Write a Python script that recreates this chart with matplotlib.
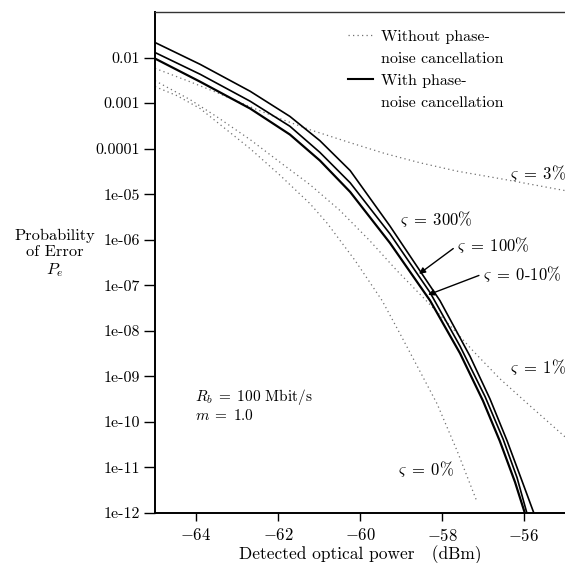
import matplotlib
matplotlib.use("Agg")
import matplotlib.pyplot as plt
from matplotlib.lines import Line2D

plt.rcParams['font.family'] = ['cmr10', 'DejaVu Serif']
plt.rcParams['mathtext.fontset'] = 'cm'
plt.rcParams['axes.formatter.use_mathtext'] = True

# solid curves: with phase-noise cancellation
p_010 = [-65.0, -63.90, -62.68, -61.71, -60.98, -60.24, -59.27, -58.29, -57.56, -57.0, -56.59, -56.22, -55.98]
pe_010 = [9.5e-3, 2.95e-3, 7.6e-4, 2.04e-4, 5.5e-5, 1.12e-5, 8.5e-7, 4.6e-8, 3.2e-9, 2.9e-10, 3.8e-11, 4.8e-12, 1.0e-12]

p_100 = [-65.0, -63.90, -62.68, -61.71, -60.98, -60.24, -59.27, -58.29, -57.56, -56.95, -56.51, -56.17, -55.93]
pe_100 = [1.29e-2, 4.3e-3, 1.1e-3, 3.1e-4, 8.3e-5, 1.78e-5, 1.35e-6, 6.9e-8, 4.6e-9, 3.6e-10, 4.2e-11, 6.0e-12, 1.0e-12]

p_300 = [-65.0, -63.90, -62.68, -61.71, -60.98, -60.24, -59.27, -58.05, -57.32, -56.83, -56.41, -56.05, -55.76]
pe_300 = [2.14e-2, 7.1e-3, 1.82e-3, 5.1e-4, 1.5e-4, 3.3e-5, 2.0e-6, 4.6e-8, 2.8e-9, 3.2e-10, 3.8e-11, 5.1e-12, 1.0e-12]

# dotted curves: without phase-noise cancellation
p_0 = [-65.0, -64.46, -63.90, -62.68, -61.95, -61.22, -60.80, -60.12, -59.46, -59.02, -58.54, -58.12, -57.63, -57.15]
pe_0 = [2.3e-3, 1.45e-3, 7.6e-4, 1.0e-4, 2.6e-5, 6.2e-6, 2.3e-6, 3.5e-7, 4.6e-8, 8.5e-9, 1.3e-9, 2.5e-10, 2.3e-11, 1.8e-12]

p_1 = [-65.0, -64.15, -63.49, -62.68, -61.88, -61.22, -60.49, -59.76, -59.10, -58.46, -57.80, -57.20, -56.59, -55.85, -55.0]
pe_1 = [3.1e-3, 1.2e-3, 5.0e-4, 1.58e-4, 4.5e-5, 1.62e-5, 4.4e-6, 9.5e-7, 2.1e-7, 5.4e-8, 1.29e-8, 3.3e-9, 8.9e-10, 2.24e-10, 4.7e-11]

p_3 = [-65.0, -64.15, -63.49, -62.68, -62.02, -61.22, -60.24, -59.39, -58.54, -57.63, -56.59, -55.0]
pe_3 = [5.8e-3, 2.95e-3, 1.7e-3, 8.3e-4, 4.8e-4, 2.6e-4, 1.35e-4, 7.8e-5, 4.9e-5, 3.2e-5, 2.2e-5, 1.2e-5]

xticks = [-64, -62, -60, -58, -56]
xticklabels = ['$-64$', '$-62$', '$-60$', '$-58$', '$-56$']
yticks = [1e-12, 1e-11, 1e-10, 1e-9, 1e-8, 1e-7, 1e-6, 1e-5, 1e-4, 1e-3, 1e-2]
yticklabels = ['1e-12', '1e-11', '1e-10', '1e-09', '1e-08', '1e-07', '1e-06',
               '1e-05', '0.0001', '0.001', '0.01']

fig = plt.figure(figsize=(5.65, 5.63), dpi=100)
ax = fig.add_axes([155 / 565, 50 / 563, 410 / 565, 501 / 563])

dot = dict(color='#707070', lw=0.9, linestyle=(0, (1, 2.6)))
ax.semilogy(p_0, pe_0, **dot)
ax.semilogy(p_1, pe_1, **dot)
ax.semilogy(p_3, pe_3, **dot)
ax.semilogy(p_300, pe_300, color='k', lw=1.2)
ax.semilogy(p_100, pe_100, color='k', lw=1.2)
ax.semilogy(p_010, pe_010, color='k', lw=1.6)

ax.set_xlim(-65, -55)
ax.set_ylim(1e-12, 1e-1)
ax.set_xticks(xticks)
ax.set_xticklabels(xticklabels)
ax.set_yticks(yticks)
ax.set_yticklabels(yticklabels)
ax.minorticks_off()
ax.tick_params(axis='y', direction='out', length=8, width=1, labelsize=11.5, pad=3)
ax.tick_params(axis='x', direction='out', length=6, width=1, labelsize=12, pad=4)

ax.spines['right'].set_visible(False)
ax.spines['left'].set_linewidth(1.4)
ax.spines['bottom'].set_linewidth(1.4)
ax.spines['top'].set_linewidth(1.0)
ax.spines['top'].set_color('#333333')

ax.set_xlabel('Detected optical power   (dBm)', fontsize=12.5, labelpad=1)
ax.text(-0.245, 0.517, 'Probability\nof Error\n$P_e$', transform=ax.transAxes,
        ha='center', va='center', fontsize=11.8, linespacing=1.2)

handles = [Line2D([], [], **dot), Line2D([], [], color='none'),
           Line2D([], [], color='k', lw=1.5), Line2D([], [], color='none')]
labels = ['Without phase-', 'noise cancellation', 'With phase-', 'noise cancellation']
ax.legend(handles, labels, loc='upper left', bbox_to_anchor=(0.455, 0.978),
          frameon=False, fontsize=11.5, handlelength=1.6, handletextpad=0.5,
          labelspacing=0.5, borderaxespad=0)

fs = 12
ax.text(-59.02, 10 ** -5.54, r'$\varsigma\;=\;300\%$', fontsize=fs, va='center')
ax.text(-56.34, 10 ** -4.53, r'$\varsigma\;=\;3\%$', fontsize=fs, va='center')
ax.text(-56.34, 10 ** -8.81, r'$\varsigma\;=\;1\%$', fontsize=fs, va='center')
ax.text(-59.07, 10 ** -11.03, r'$\varsigma\;=\;0\%$', fontsize=fs, va='center')
arrow = dict(arrowstyle='-|>', color='k', lw=1.0, shrinkA=1, shrinkB=0,
             mutation_scale=9, relpos=(0, 0.5))
ax.annotate(r'$\varsigma\;=\;100\%$', xy=(-58.56, 10 ** -6.75), xytext=(-57.63, 10 ** -6.13),
            fontsize=fs, va='center', arrowprops=arrow)
ax.annotate(r'$\varsigma\;=\;0$-$10\%$', xy=(-58.34, 10 ** -7.21), xytext=(-57.0, 10 ** -6.75),
            fontsize=fs, va='center', arrowprops=arrow)
ax.text(-64.02, 10 ** -9.46, r'$R_b\;=\;100$ Mbit/s', fontsize=11, va='center')
ax.text(-64.02, 10 ** -9.86, r'$m\;=\;1.0$', fontsize=11, va='center')

fig.savefig('out.png', dpi=100)
